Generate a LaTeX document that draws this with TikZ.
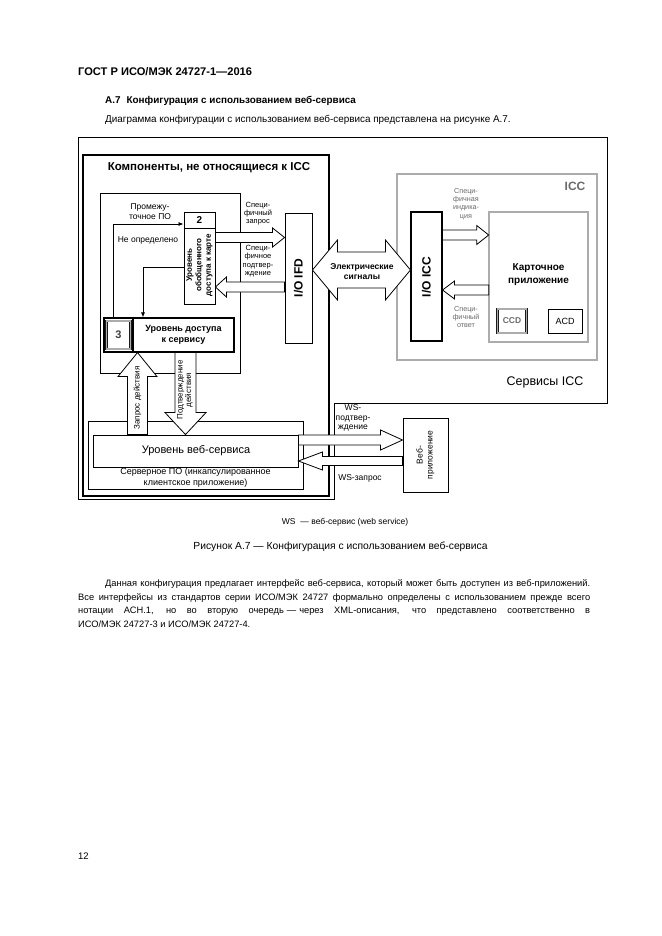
\documentclass[tikz,border=0pt]{standalone}
\usepackage{fontspec}
\setmainfont{Liberation Sans}
\usetikzlibrary{calc,arrows.meta}
\newcommand\fs[2]{\fontsize{#1}{#2}\selectfont}
\tikzset{
  box/.style={draw, line width=0.9pt, inner sep=0pt, fill=white},
  gbox/.style={draw=black!90, double=gray!65, double distance=1.6pt, line width=0.6pt, inner sep=0pt, fill=white},
  lbl/.style={inner sep=0pt, align=center},
  blk/.style={draw, line width=0.8pt, fill=white, line join=miter},
  gtxt/.style={text=black!58},
  thin/.style={line width=0.6pt},
  lnarrow/.style={line width=0.8pt, -{Latex[length=5pt,width=4pt]}},
  ptext/.style={anchor=base west, inner sep=0pt}
}
\newcommand\harrow[5]{%
  \draw[blk] let \p1=(#1), \p2=(#2), \n1={ifthenelse(\x2>\x1,1,-1)} in
    (\x1,{\y1+#3}) -- ({\x2-(\n1)*#5},{\y1+#3}) -- ({\x2-(\n1)*#5},{\y1+#4}) -- (\x2,\y1)
    -- ({\x2-(\n1)*#5},{\y1-#4}) -- ({\x2-(\n1)*#5},{\y1-#3}) -- (\x1,{\y1-#3}) -- cycle;}
\newcommand\varrow[5]{%
  \draw[blk] let \p1=(#1), \p2=(#2), \n1={ifthenelse(\y2>\y1,1,-1)} in
    ({\x1+#3},\y1) -- ({\x1+#3},{\y2-(\n1)*#5}) -- ({\x1+#4},{\y2-(\n1)*#5}) -- (\x1,\y2)
    -- ({\x1-#4},{\y2-(\n1)*#5}) -- ({\x1-#3},{\y2-(\n1)*#5}) -- ({\x1-#3},\y1) -- cycle;}
\newcommand\darrow[5]{%
  \draw[blk] let \p1=(#1), \p2=(#2) in
    (\x1,\y1) -- ({\x1+#5},{\y1+#4}) -- ({\x1+#5},{\y1+#3}) -- ({\x2-#5},{\y1+#3}) -- ({\x2-#5},{\y1+#4})
    -- (\x2,\y1) -- ({\x2-#5},{\y1-#4}) -- ({\x2-#5},{\y1-#3}) -- ({\x1+#5},{\y1-#3}) -- ({\x1+#5},{\y1-#4}) -- cycle;}
\begin{document}
\begin{tikzpicture}[x=1pt,y=-1pt]
\useasboundingbox (0,0) rectangle (661,936);
\fill[white] (0,0) rectangle (661,936);

% ---- page text ----
\node[ptext, font=\bfseries\fs{11.1}{13}] (hdr) at (78,76) {ГОСТ Р ИСО/МЭК 24727-1—2016};
\node[ptext, font=\bfseries\fs{9.9}{11}] (sec) at (105,103.5) {А.7\hspace{6pt}Конфигурация с использованием веб-сервиса};
\node[ptext, font=\fs{9.9}{11}] (intro) at (105,122.5) {Диаграмма конфигурации с использованием веб-сервиса представлена на рисунке А.7.};

% ---- frames ----
\draw[thin] (78,137) -- (607,137) -- (607,403) -- (334,403) -- (334,499) -- (78,499) -- cycle;
\node[box, line width=1.1pt, minimum width=246pt, minimum height=341pt] (comp) at (206,325.5) {};
\node[box, minimum width=140pt, minimum height=180pt] (mw) at (170,283) {};

% ---- left blocks ----
\node[box, minimum width=31pt, minimum height=92pt] (b2) at (199.5,258) {};
\draw[line width=0.9pt] (b2.west |- 0,228) -- (b2.east |- 0,228);
\node[box, line width=1.1pt, minimum width=130pt, minimum height=34pt] (b3) at (169,335) {};
\draw[line width=1.1pt] (133,0 |- b3.north) -- (133,0 |- b3.south);
\node[gbox, minimum width=24pt, minimum height=28pt, fill=none] (b3n) at (118.5,335) {};
\node[box, minimum width=27pt, minimum height=130pt] (ifd) at (298.5,278) {};

% ---- ICC side ----
\node[gbox, minimum width=200pt, minimum height=186pt] (icc) at (497,267) {};
\node[box, line width=1.1pt, minimum width=31pt, minimum height=129pt] (iccio) at (426.5,276.5) {};
\node[gbox, minimum width=99pt, minimum height=130pt] (app) at (538.5,277) {};
\node[gbox, minimum width=29pt, minimum height=24pt] (ccd) at (512,321) {};
\node[box, minimum width=34pt, minimum height=24pt] (acd) at (565,321) {};

% ---- server side ----
\node[box, minimum width=215pt, minimum height=68pt] (srv) at (195.5,455) {};
\node[box, minimum width=205pt, minimum height=32pt] (wsl) at (195.5,451) {};
\node[box, minimum width=45pt, minimum height=74pt] (web) at (425.5,455) {};

% ---- thin connectors ----
\draw[lnarrow] (113,0 |- b3.north) -- (113,224) -- (b2.west |- 0,224);
\draw[lnarrow] (b2.west |- 0,267) -- (143,267) -- (143,0 |- b3.north);

% ---- block arrows ----
\coordinate (zqs) at (b2.east |- 0,237.5);
\coordinate (zqe) at (ifd.west |- 0,237.5);
\harrow{zqs}{zqe}{5pt}{9.5pt}{12pt}
\coordinate (pds) at (ifd.west |- 0,287);
\coordinate (pde) at (b2.east |- 0,287);
\harrow{pds}{pde}{5pt}{10pt}{11pt}
\coordinate (ins) at (iccio.east |- 0,235);
\coordinate (ine) at (app.west |- 0,235);
\harrow{ins}{ine}{5pt}{9.5pt}{12pt}
\coordinate (ans) at (app.west |- 0,290);
\coordinate (ane) at (iccio.east |- 0,290);
\harrow{ans}{ane}{5pt}{9pt}{12pt}
\coordinate (es1) at (ifd.east |- 0,270);
\coordinate (es2) at (iccio.west |- 0,270);
\darrow{es1}{es2}{18pt}{30pt}{25pt}
\coordinate (wcs) at (wsl.east |- 0,440);
\coordinate (wce) at (web.west |- 0,440);
\harrow{wcs}{wce}{5pt}{10pt}{22pt}
\coordinate (wrs) at (web.west |- 0,461);
\coordinate (wre) at (wsl.east |- 0,461);
\harrow{wrs}{wre}{4.5pt}{9pt}{24pt}
\coordinate (zds) at (wsl.north -| 137.5,0);
\coordinate (zde) at (b3.south -| 137.5,0);
\varrow{zds}{zde}{10pt}{19.5pt}{24pt}
\coordinate (pas) at (b3.south -| 185.5,0);
\coordinate (pae) at (wsl.north -| 185.5,0);
\varrow{pas}{pae}{10.5pt}{20.5pt}{22pt}

% ---- labels ----
\node[lbl, font=\bfseries\fs{11.5}{13}] (compt) at (209,168) {Компоненты, не относящиеся к ICC};
\node[lbl, font=\fs{8.5}{10}] (mwt) at (150,212) {Промежу-\\точное ПО};
\node[lbl, font=\fs{8.5}{10}] (ndt) at (148,240) {Не определено};
\node[lbl, font=\bfseries\fs{10}{12}] (b2n) at (199.5,220) {2};
\node[lbl, rotate=90, font=\bfseries\fs{8}{9.5}] (b2t) at (199.5,265) {Уровень\\обобщенного\\доступа к карте};
\node[lbl, font=\bfseries\fs{11}{13}, text=black!75] (b3nt) at (118.5,335) {3};
\node[lbl, font=\bfseries\fs{9}{11}] (b3t) at (183.5,335) {Уровень доступа\\к сервису};
\node[lbl, rotate=90, font=\bfseries\fs{12}{14}] (ifdt) at (298.5,278) {I/O IFD};
\node[lbl, font=\fs{7.5}{8.3}] (zqt) at (258,213.5) {Специ-\\фичный\\запрос};
\node[lbl, font=\fs{7.5}{8.3}] (pdt) at (258,261) {Специ-\\фичное\\подтвер-\\ждение};
\node[lbl, font=\bfseries\fs{8.5}{10}] (est) at (362,272) {Электрические\\сигналы};
\node[lbl, rotate=90, font=\bfseries\fs{12}{14}] (icciot) at (426.5,277) {I/O ICC};
\node[lbl, gtxt, font=\bfseries\fs{12}{14}] (icct) at (575,186) {ICC};
\node[lbl, gtxt, font=\fs{7.2}{8.3}] (int) at (466,204) {Специ-\\фичная\\индика-\\ция};
\node[lbl, gtxt, font=\fs{7.2}{8.3}] (ant) at (466,317) {Специ-\\фичный\\ответ};
\node[lbl, font=\bfseries\fs{10}{13}] (appt) at (538.5,275) {Карточное\\приложение};
\node[lbl, gtxt, font=\bfseries\fs{8.5}{10}] (ccdt) at (512,321) {CCD};
\node[lbl, font=\fs{9}{10}] (acdt) at (565,321) {ACD};
\node[lbl, font=\fs{12.5}{14}] (svc) at (545,382) {Сервисы ICC};
\node[lbl, rotate=90, font=\fs{8}{9}] (zdt) at (137.5,398) {Запрос действия};
\node[lbl, rotate=90, font=\fs{8}{8.5}] (pat) at (185,390) {Подтверждение\\действия};
\node[lbl, font=\fs{11}{12}] (wslt) at (196,451) {Уровень веб-сервиса};
\node[lbl, font=\fs{9}{10.5}] (srvt) at (195.5,477.5) {Серверное ПО (инкапсулированное\\клиентское приложение)};
\node[lbl, font=\fs{8.5}{9.5}] (wct) at (353,418) {WS-\\подтвер-\\ждение};
\node[lbl, font=\fs{8.5}{10}] (wrt) at (360,478) {WS-запрос};
\node[lbl, rotate=90, font=\fs{8.5}{10}] (webt) at (425.5,455) {Веб-\\приложение};

% ---- caption and paragraph ----
\node[anchor=base, inner sep=0pt, font=\fs{8.5}{10}] (cap1) at (345,524.5) {WS\hspace{5pt}— веб-сервис (web service)};
\node[anchor=base, inner sep=0pt, font=\fs{10.3}{11}] (cap2) at (340.5,549.5) {Рисунок А.7 — Конфигурация с использованием веб-сервиса};
\node[ptext, font=\fs{9.3}{11}] (p1) at (105,586) {\makebox[485pt][s]{Данная конфигурация предлагает интерфейс веб-сервиса, который может быть доступен из веб-приложений.}};
\node[ptext, font=\fs{9.3}{11}] (p2) at (78,600) {\makebox[512pt][s]{Все интерфейсы из стандартов серии ИСО/МЭК 24727 формально определены с использованием прежде всего}};
\node[ptext, font=\fs{9.3}{11}] (p3) at (78,613.5) {\makebox[512pt][s]{нотации АСН.1, но во вторую очередь\hspace{3pt}—\hspace{3pt}через XML-описания, что представлено соответственно в}};
\node[ptext, font=\fs{9.3}{11}] (p4) at (78,627) {ИСО/МЭК 24727-3 и ИСО/МЭК 24727-4.};
\node[ptext, font=\fs{9.5}{11}] (pg) at (78,859) {12};
\end{tikzpicture}
\end{document}
